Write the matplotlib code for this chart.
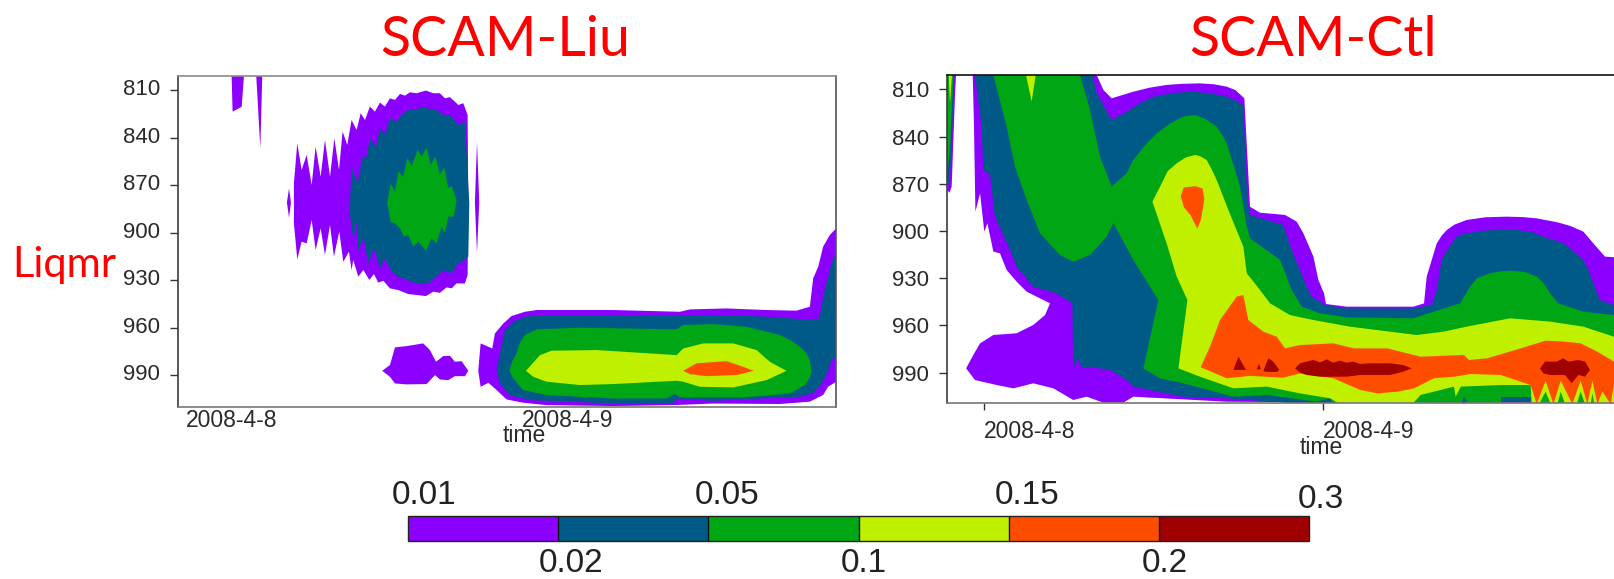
import matplotlib
matplotlib.use("Agg")
import matplotlib.pyplot as plt
from matplotlib.colors import ListedColormap, BoundaryNorm
from matplotlib.colorbar import ColorbarBase
from matplotlib.transforms import ScaledTranslation

W, H = 1614, 579
# contour levels and shared labels
levels = [0.01, 0.02, 0.05, 0.1, 0.15, 0.2, 0.3]
level_labels = ["0.01", "0.02", "0.05", "0.1", "0.15", "0.2", "0.3"]
band_colors = ["#8c00ff", "#005a87", "#00a614", "#bff000", "#ff4d00", "#a00000"]
pressure_ticks = [810, 840, 870, 900, 930, 960, 990]
date_labels = ["2008-4-8", "2008-4-9"]

# Contour outlines: (time in hours, pressure in hPa)
# ---- SCAM-Liu ----
liu_p1_a = [(1.26,801),(1.33,823.5),(1.98,820.5),(2.14,801)]
liu_p1_b = [(3.02,801),(3.31,846.7),(3.45,801)]
liu_p1_c = [(5.21,881),(5.36,872),(5.5,881),(5.36,890.5)]
liu_p1_d = [(18.64,881),(18.79,842.5),(18.95,881),(18.79,913)]
liu_p1_main = [(5.71,868.8),(5.95,843.5),(6.26,860.4),(6.62,850.9),(6.98,869.9),(7.26,845.6),(7.62,864.6),(7.93,841.4),
 (8.29,864.6),(8.6,840.4),(8.93,860.4),(9.19,836.1),(9.52,844.6),(9.83,828.8),(10.19,835.1),(10.48,824.5),(10.79,828.8),
 (11.14,820.3),(11.5,823.5),(11.86,817.8),(12.21,820.3),(12.57,815.1),(12.93,816.1),(13.29,812.3),(13.64,813.4),(14.0,811.3),
 (14.48,811.9),(15.14,810.2),(15.67,811.9),(16.14,811.9),(16.5,815.1),(16.86,814.4),(17.21,817.2),(17.45,819.3),(17.81,818.2),
 (18.12,825.6),(18.17,881.5),(18.12,926.8),(17.93,932.1),(17.33,932.1),(16.98,935.2),(16.62,934.6),(16.14,938),(15.67,937.3),
 (15.14,940.1),(14.48,939.4),(13.88,938.8),(13.17,936.3),(12.57,935.2),(12.1,930.4),(11.74,931.6),(11.43,926.2),(11.1,929.9),
 (10.67,923.6),(10.31,927.8),(9.95,917.3),(9.83,923.6),(9.64,912),(9.24,918.4),(8.95,899.4),(8.57,915.2),(8.29,895.2),(7.93,914.1),
 (7.62,897.3),(7.26,911),(6.98,892),(6.62,906.8),(6.26,905.7),(5.95,916.9),(5.71,894.1)]
liu_p2_main = [(9.71,881.5),(9.83,858.3),(10.24,868.8),(10.67,849.8),(10.86,854.1),(11.14,840.4),(11.57,846),(11.86,834),
 (12.21,838.2),(12.57,827.7),(13.05,829.8),(13.4,825.6),(13.88,822.4),(14.36,822.4),(14.95,820.3),(15.43,822),(15.9,822.4),
 (16.38,825.6),(16.86,825.6),(17.45,831.9),(17.93,829.8),(18.24,881.5),(18.17,915.2),(17.93,917.3),(17.45,919.4),(16.98,925.7),
 (16.38,923.6),(15.9,927.8),(15.19,932.5),(14.48,932.1),(13.76,929.9),(13.17,927.8),(12.69,924.7),(12.21,916.2),(11.86,922.6),
 (11.43,909.9),(11.02,919.4),(10.67,902.5),(10.31,912),(10.19,893.1),(9.95,904.7),(9.67,885.7)]
liu_p3_main = [(12.38,881.5),(12.62,868.8),(12.93,874.1),(13.17,861.4),(13.52,864.6),(13.81,853),(14.12,857.9),(14.55,847.7),
 (14.83,851.9),(15.19,846.3),(15.48,857.2),(15.83,851.9),(16.14,863.5),(16.45,858.7),(16.74,872),(16.98,870.5),(17.33,879.4),
 (17.14,889.9),(16.74,889.9),(16.5,900.4),(16.26,896.2),(15.9,906.8),(15.55,903.6),(15.14,911.4),(14.6,905.7),(14.24,908.9),
 (13.88,901.5),(13.57,902.5),(13.29,897.3),(12.93,894.1),(12.62,893.1)]
liu_p1_low = [(12.02,987.3),(12.57,983.7),(12.93,972.5),(13.76,971.7),(14.95,970),(15.43,974.2),(15.86,981.6),(16.38,978),
 (16.86,977.8),(17.21,981.6),(17.69,981.2),(18.17,987.3),(17.93,990.7),(17.21,990.7),(16.74,993.2),(16.14,992.8),(15.79,990),
 (15.19,995.7),(13.76,995.9),(12.93,995.3),(12.57,991.1)]
liu_p1_band = [(18.88,987.3),(19.05,970),(19.88,973.2),(20.07,963.7),(20.67,957.4),(21.26,952.7),(22.21,950),(23.05,948.9),
 (28.52,948.9),(33.29,950),(34,948.5),(36.62,947.9),(39.48,948.9),(41.62,949.3),(42.57,946.8),(42.81,928.8),(43.17,921.5),
 (43.52,908.8),(44,901.5),(44.46,897.2),(44.46,994.2),(43.88,997.3),(43.52,1002.6),(42.57,1006.8),(40.43,1008.3),(35.67,1008),
 (32.81,1009),(28.52,1009.6),(23.76,1009),(22.1,1007.5),(20.9,1005.4),(20.07,998.5),(19.6,994.9),(19.05,997.4)]
liu_p2_band = [(20.19,987.3),(20.43,976.3),(20.79,961.6),(21.38,956.3),(22.21,953.1),(23.76,952.1),(32.81,952.7),(33.52,952.1),
 (36.62,952.1),(39.48,953.1),(42.81,955.2),(43.24,954.1),(43.64,936.2),(44.13,919.4),(44.46,912),(44.46,978.4),(44.13,980.5),
 (43.88,986.8),(43.52,994.2),(42.81,1001.5),(41.86,1003.6),(35.67,1006.3),(33.05,1004.8),(32.81,1008),(29.71,1008.4),(22.57,1005.8),
 (21.14,1002.7),(20.43,995.3)]
liu_p3_band = [(21.1,987.3),(21.3,981.5),(21.62,976.3),(21.85,969.5),(22.21,964.7),(23.05,961.1),(26.14,960.1),(33.05,961.1),(33.52,958.4),(35.67,957.8),
 (38.05,959.5),(40.43,964.7),(41.2,968),(41.86,972.1),(42.3,976),(42.57,980.5),(42.69,987.9),(42.55,992),(42.21,996.3),(41.7,999),(41.14,1001.6),
 (39.5,1003),(37.57,1004.1),(33.29,1004.1),(32.93,1002),(32.33,1004.8),(28.52,1004.8),(23.76,1002.7),(22.1,999.5),(21.38,992.1)]
liu_p4_band = [(22.29,987.3),(23.29,977.4),(24.12,974.6),(27.33,974.2),(33.05,977.4),(33.52,973.2),(34.95,970),(37.1,970),
 (38.76,974.2),(39.71,981.6),(40.9,987.3),(39.48,993.2),(37.1,997.8),(34.71,997.4),(33.52,994.2),(33.05,993.6),(28.52,995.7),
 (26.14,996.3),(23.76,994.2),(22.81,991.1)]
liu_p5_band = [(33.52,987.3),(34.48,982.6),(36.62,981.2),(37.81,984.8),(38.57,987.3),(37.33,990),(35.19,990.7),(34,989.4)]

# ---- SCAM-Ctl ----
ctl_p1_sliver = [(-2.57,800.9),(-1.98,800.9),(-2.05,812.5),(-2.29,871.8),(-2.45,875.7),(-2.6,874)]
ctl_p2_sliver = [(-2.6,800.9),(-2.12,800.9),(-2.29,844.3),(-2.45,869.7),(-2.6,869.7)]
ctl_p3_sliver = [(-2.6,800.9),(-2.17,800.9),(-2.41,848.5),(-2.6,863.4)]
ctl_p4_sliver = [(-2.5,800.9),(-2.27,800.9),(-2.41,818.9)]
ctl_p1_main = [(-0.8,800.9),(-0.71,833.7),(-0.61,887.7),(-0.28,876.1),(0.02,900.4),(0.24,895.1),(0.66,913.1),(1.13,914.2),
 (1.6,924.8),(2.31,932.2),(3.02,938.6),(3.96,942.8),(4.67,946),(4.32,953.4),(3.49,959.7),(2.31,965),(0.66,966.1),(-0.28,971.4),
 (-0.76,978.8),(-1.27,987.3),(-0.64,994.7),(0.9,997.9),(2.08,1000),(3.49,996.8),(4.91,1000),(6.32,1007.4),(7.27,1005.3),(8.45,1009.1),
 (9.86,1009.1),(10.57,1005.3),(14.11,1007),(17.18,1008.5),(44.6,1010),(44.6,916.7),(43.96,916.3),(43.14,907.9),(42.43,900.4),
 (41.5,896.8),(40.6,894.5),(39.13,892),(38.2,891.2),(37,890.9),(35.5,891.3),(34.17,893),(33.3,896),(32.76,899.4),(32.4,903),(32.05,907.9),(31.34,929),(31.15,946),(30.4,948.1),(25.68,948.1),(24.21,946.4),
 (24.07,939.6),(23.67,931.1),(23.32,916.3),(22.61,901.5),(22.14,894.1),(21.31,889.8),(19.54,888.4),(18.83,884.6),(18.43,815.7),(17.8,810.5),
 (17.18,808.3),(16.3,806.8),(15.29,806.2),(14,806.5),(12.93,807.2),(11.7,809),(10.57,811.5),(9.04,815.7),(8.45,810.4),(7.98,800.9)]
ctl_p2_main = [(-0.64,800.9),(-0.17,833.7),(-0.05,861.3),(0.42,864.4),(0.78,890.9),(1.84,912.1),(2.31,922.7),(3.49,935.4),(5.14,939.6),
 (6.25,946),(6.32,987.3),(6.68,980.9),(6.91,987.3),(7.39,986.2),(8.92,988.3),(10.1,994.7),(10.57,998.9),(14.11,1005.3),(17.18,1006.3),
 (20.48,1008.5),(22.37,1010),(44.6,1010),(44.6,947),(43.6,943.9),(43.14,933.3),(42.8,925),(42.43,918.4),(41.1,908),(39.6,903.6),(38.7,900.6),(37.71,899.4),(36.4,899.2),(35.35,899.8),
 (33.9,902),(33.46,903.6),(32.8,912),(32.4,918.4),(32.05,937.5),(31.69,947),(30.4,949.2),(25.68,949.2),(24.14,947),(23.2,941.7),(22.84,935.4),(22.37,924.8),
 (21.78,912.1),(21.19,896.2),(18.83,889.8),(18.64,880.3),(18.36,820),(17.9,817.5),(17.18,814.7),(16,812.5),(14.82,811.5),(13.4,812.3),(11.99,814.7),(11,819),(10.1,824.2),(9.04,829.5),
 (7.98,812.5),(7.69,800.9)]
ctl_p3_main = [(0.66,800.9),(1.6,833.7),(2.19,859.1),(3.02,880.3),(3.96,901.5),(5.38,915.3),(6.32,919.5),(7.5,915.3),(8.68,903.6),
 (9.16,895.1),(10.57,918.4),(12.34,943.9),(11.28,987.3),(12.46,993.6),(14.11,996.8),(17.65,1005.3),(20.01,1004.2),(23.55,1008.5),
 (24.5,1006.3),(24.73,1010),(44.6,1010),(44.6,953.4),(42.43,951.3),(40.66,946),(40.07,939.6),(39.6,933),(39.13,929),(38.3,926.1),(37.47,925.2),(36.6,925.6),(35.82,926.9),
 (34.9,930),(34.41,935.4),(33.7,946),(31.81,951.3),(30.4,955.5),(25.68,954.9),(23.79,952.3),(22.49,948.1),(21.78,937.5),(20.96,918.4),(18.83,904.7),
 (18.6,897.3),(18.12,871.8),(17.7,859),(17.18,844.3),(16.9,839.5),(16.47,833.7),(15.7,829),(14.94,826.3),(14.11,827.4),(13.2,831.5),(12.22,838),(11.4,845.5),(10.57,854.9),(10.1,863.4),(9.04,871.8),
 (8.21,852.8),(7.5,823.1),(6.8,800.9)]
ctl_p2_bottom_a = [(31.86,1010),(32.33,1008.5),(32.8,1010)]
ctl_p2_bottom_b = [(33.75,1010),(33.98,1005.3),(34.34,1010)]
ctl_p2_bottom_c = [(36.63,1010),(36.63,1005.7),(38.7,1005.7),(38.7,1010)]
ctl_p1_bottom_c = [(36.7,1010),(36.7,1007.8),(38.7,1007.8),(38.7,1010)]
ctl_p4_tip = [(2.97,800.9),(3.37,817.8),(3.66,800.9)]
ctl_p4_main = [(11.92,881.4),(12.7,867.6),(13,862),(13.64,857),(14.3,853.2),(14.94,851.7),(15.3,852.5),(15.76,854.9),(16.1,860.5),(16.47,867.6),(17.3,886.7),(18.36,910),(18.6,926.9),
 (19.54,937.5),(20.25,946),(21.66,953.4),(23.32,956.6),(25.91,960.8),(30.63,966.1),(32.52,964),(34.17,960.8),(37.24,955.5),(40.07,957.6),
 (42.43,960.8),(44.6,967.2),(44.6,1010),(38.77,1010),(38.7,997.9),(36.58,997.9),(33.75,998.9),(33.39,1005.3),(33.27,998.9),(30.91,1004.2),
 (30.32,1010),(25.2,1010),(24.5,1006.3),(22.37,1003.2),(20.01,998.9),(17.65,1000),(15.29,992.6),(13.76,987.3),(14.4,943.9),(13.64,929),(12.93,907.9)]
ctl_p3_teeth = [(39.29,1010),(39.76,1002.1),(40.12,1010),(40.59,1010),(40.83,1002.1),(41.13,1010),(41.96,1010),(42.24,1002.1),(42.55,1010),
 (42.95,1010),(43.07,1003.2),(43.21,1010)]
ctl_p5_upper = [(13.93,878),(14.13,872.5),(14.95,871.5),(15.47,873),(15.6,880),(15.35,893),(15.1,898.5),(14.62,890),(14.15,885)]
ctl_p5_main = [(15.34,986.6),(16,973.5),(16.71,956.6),(17.89,941.7),(18.36,940.7),(18.71,956.6),(19.78,964),(20.72,967.2),(21.31,974.6),
 (22.37,972.5),(24.73,971.4),(26.19,974.6),(28.55,974.6),(30.91,979.9),(33.98,978.8),(34.34,982),(35.63,980.9),(37.99,974.6),(39.76,969.7),
 (41.06,970.3),(42.24,971.4),(43.42,976.7),(44.6,983),(44.6,996.8),(44.37,1010),(43.78,1002.1),(43.42,1010),(43.07,995.1),(42.71,1010),
 (42.24,995.1),(41.65,1010),(40.83,995.1),(40.31,1010),(39.76,995.1),(39.13,1010),(38.7,997.9),(36.58,991.5),(34.45,990.9),(33.27,992.6),
 (31.86,993.6),(30.44,1000),(29.26,1002.1),(27.85,1003.2),(26.62,1001),(24.73,993.6),(22.37,990.5),(21.19,993.2),(18.83,992.1),(17.18,993.6)]
ctl_p6_a = [(17.65,988.3),(18.01,979.9),(18.55,988.3)]
ctl_p6_b = [(19.3,987.9),(19.47,984.5),(19.61,987.9)]
ctl_p6_c = [(19.78,988.8),(20.13,980.9),(20.48,983),(20.91,988.3),(20.72,989.6),(19.89,989.4)]
ctl_p6_d = [(22.02,987.3),(22.37,984.1),(22.84,983),(23.32,982),(23.79,983.5),(24.26,981.6),(24.73,983.7),(25.2,982.4),(25.68,983.7),
 (26.15,983),(26.62,984.5),(27.33,984.1),(28.74,984.1),(29.69,985.2),(30.28,987.3),(29.69,989.4),(28.74,991.5),(27.33,991.5),(26.62,991.5),
 (25.68,992.6),(24.73,992.6),(23.79,992.6),(22.84,991.5),(22.37,990)]
ctl_p6_e = [(39.36,987.3),(39.72,983),(40.54,983),(41.01,980.9),(41.37,983),(42.08,982),(42.55,983),(42.9,988.3),(42.55,992.6),(42.08,991.5),
 (41.6,996.8),(41.13,991.5),(40.54,991.5),(40.07,991.5),(39.6,990.5)]

# (outline, index into band_colors), in painting order
liu_layers = [(liu_p1_a,0),(liu_p1_b,0),(liu_p1_c,0),(liu_p1_d,0),(liu_p1_main,0),(liu_p2_main,1),(liu_p3_main,2),(liu_p1_low,0),
              (liu_p1_band,0),(liu_p2_band,1),(liu_p3_band,2),(liu_p4_band,3),(liu_p5_band,4)]
ctl_layers = [(ctl_p1_sliver,0),(ctl_p2_sliver,1),(ctl_p3_sliver,2),(ctl_p4_sliver,3),(ctl_p1_main,0),(ctl_p2_main,1),(ctl_p3_main,2),
              (ctl_p2_bottom_a,1),(ctl_p2_bottom_b,1),(ctl_p2_bottom_c,1),(ctl_p1_bottom_c,0),(ctl_p4_tip,3),(ctl_p4_main,3),(ctl_p3_teeth,2),
              (ctl_p5_upper,4),(ctl_p5_main,4),(ctl_p6_a,5),(ctl_p6_b,5),(ctl_p6_c,5),(ctl_p6_d,5),(ctl_p6_e,5)]

plt.rcParams["font.family"] = ["Liberation Sans", "DejaVu Sans"]
fig = plt.figure(figsize=(W/100, H/100), dpi=100, facecolor="white")

def add_axes_px(x0, y0, x1, y1):
    return fig.add_axes([x0/W, 1-y1/H, (x1-x0)/W, (y1-y0)/H])

def panel(ax, layers, xlim, ylim, date_ticks, tick_len, pad, colors_sp):
    for outline, idx in layers:
        t, p = zip(*outline)
        ax.fill(t, p, color=band_colors[idx], lw=0, zorder=2)
    ax.set_xlim(*xlim); ax.set_ylim(*ylim)
    ax.set_yticks(pressure_ticks)
    ax.tick_params(axis="y", length=6, width=1.0, color="#333333", labelsize=16, labelcolor="#2a2a2a", pad=7)
    ax.set_xticks(date_ticks)
    ax.set_xticklabels(date_labels, ha="left", fontsize=16.5, color="#2a2a2a")
    ax.tick_params(axis="x", length=tick_len, width=1.0, color="#333333", pad=pad)
    for side, c in colors_sp.items():
        ax.spines[side].set_color(c)
        ax.spines[side].set_linewidth(1.2)

ax1 = add_axes_px(178, 76, 836.3, 406.7)
panel(ax1, liu_layers, (-2.571, 44.46), (1010, 801), [-2, 22], 0, 1.5,
      {"left": "#3c3c3c", "top": "#8a8a8a", "right": "#555555", "bottom": "#777777"})
for lab in ax1.get_yticklabels():
    lab.set_transform(lab.get_transform() + ScaledTranslation(0, 3/100, fig.dpi_scale_trans))
ax2 = add_axes_px(947.3, 75, 1614, 403.3)
panel(ax2, ctl_layers, (-2.6, 44.6), (1009.5, 800.9), [0, 24], 5, 7,
      {"left": "#3c3c3c", "top": "#111111", "right": "#111111", "bottom": "#777777"})
ax2.spines["right"].set_visible(False)

def text_px(x, y, s, **kw):
    fig.text(x/W, 1-y/H, s, ha=kw.pop("ha", "center"), va=kw.pop("va", "center"), **kw)

text_px(505, 40, "SCAM-Liu", color="#ff0000", fontsize=40, family="Lato")
text_px(1313, 40, "SCAM-Ctl", color="#ff0000", fontsize=40, family="Lato")
text_px(64, 277, "Liqmr", color="#ff0000", fontsize=30, family="Lato", va="baseline")
text_px(524, 436, "time", fontsize=16.5, color="#2a2a2a")
text_px(1321, 448, "time", fontsize=16.5, color="#2a2a2a")

# colour bar
cax = add_axes_px(408, 515.7, 1309, 540.7)
cb = ColorbarBase(cax, cmap=ListedColormap(band_colors), norm=BoundaryNorm(levels, len(band_colors)),
                  orientation="horizontal", spacing="uniform", drawedges=True, ticks=[])
cb.outline.set_edgecolor("#222222"); cb.outline.set_linewidth(1.0)
cb.dividers.set_color("#111111"); cb.dividers.set_linewidth(1.0)
cb.ax.minorticks_off()

label_x = [424, 571.5, 727, 863.6, 1027, 1165, 1321]
label_y = [496, 563, 496, 563, 496, 563, 499]
for x, y, s in zip(label_x, label_y, level_labels):
    text_px(x, y, s, fontsize=24, color="#222222")

fig.savefig("out.png", dpi=100)
